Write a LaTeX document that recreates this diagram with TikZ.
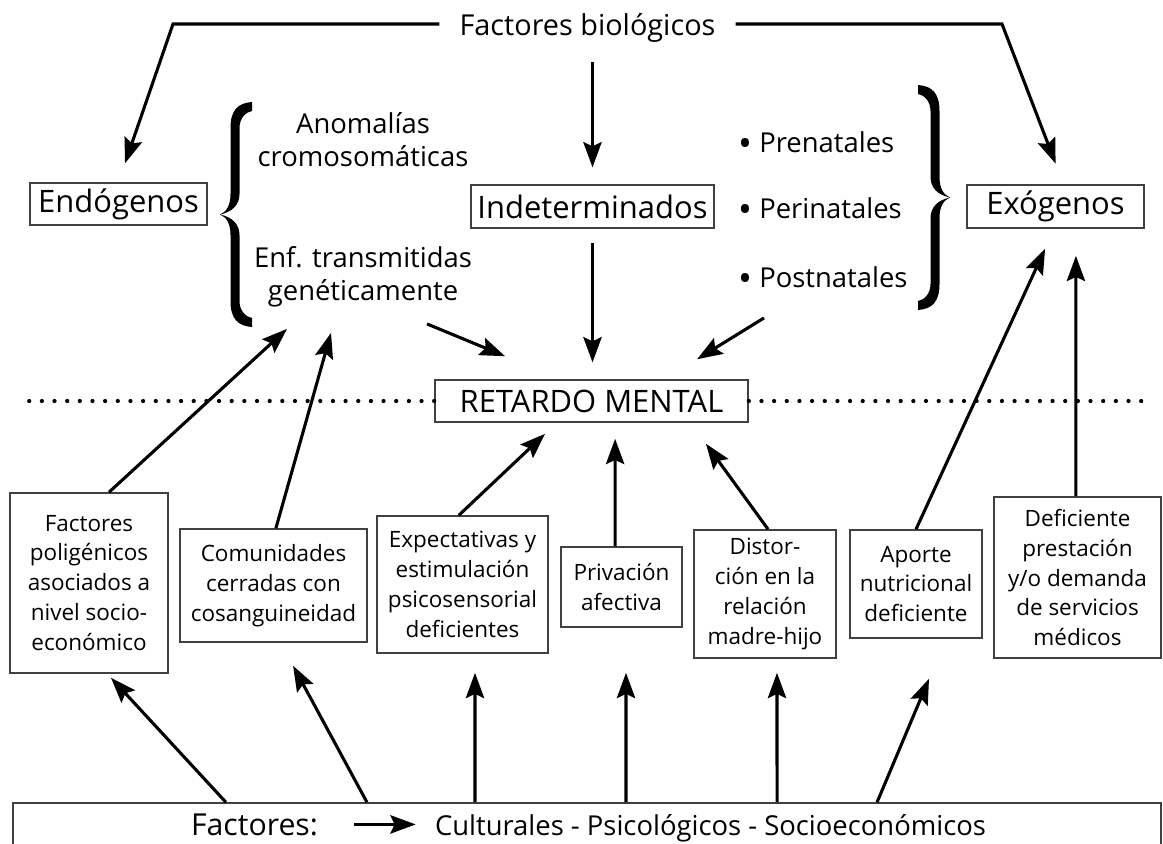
\documentclass[tikz,border=0pt]{standalone}
\usepackage{fontspec}
\usepackage{graphicx}
\setmainfont{Open Sans}
\usetikzlibrary{arrows.meta}
\newcommand\bigtxt{\fontsize{22}{26}\selectfont}
\newcommand\toptxt{\fontsize{20.5}{24}\selectfont}
\newcommand\midtxt{\fontsize{19.5}{23.4}\selectfont}
\newcommand\boxtxt{\fontsize{16}{21.3}\selectfont}
\newcommand\bulletmark{\raisebox{-0.17em}{\scalebox{1.35}{•}}}

\tikzset{
  box/.style={draw=black!75, line width=1.1pt, align=center, inner sep=0pt, font=\boxtxt},
  bigbox/.style={draw=black!75, line width=1.1pt, inner sep=0pt, font=\bigtxt},
  label/.style={inner sep=0pt, font=\midtxt},
  arr/.style={line width=2.2pt, -{Stealth[length=18pt,width=13pt,inset=3pt]}},
  dotline/.style={line width=3pt, line cap=round, dash pattern=on 0pt off 9pt},
  pics/curly/.style={code={
    \fill[xscale=#1] (0,0) .. controls (-14,1) and (-21.5,8) .. (-21.5,26) -- (-21.5,92)
      .. controls (-21.5,104) and (-26,110) .. (-32,112.5)
      .. controls (-26,115) and (-21.5,121) .. (-21.5,133) -- (-21.5,199)
      .. controls (-21.5,217) and (-14,224) .. (0,225) -- (0,216)
      .. controls (-6,215) and (-12.5,209) .. (-12.5,199) -- (-12.5,133)
      .. controls (-12.5,122) and (-20,115) .. (-32,112.5)
      .. controls (-20,110) and (-12.5,103) .. (-12.5,92) -- (-12.5,26)
      .. controls (-12.5,16) and (-6,10) .. (0,9) -- cycle;
  }}
}

\begin{document}
\begin{tikzpicture}[x=0.025cm, y=-0.025cm]
\useasboundingbox (0,0) rectangle (1163,843);
\clip (0,0) rectangle (1163,843);

% Top label
\node[anchor=base, inner ysep=0pt, inner xsep=0.5cm, font=\toptxt] (bio) at (587.5,35) {Factores biológicos};
\coordinate (bioL) at (173,24);
\coordinate (bioR) at (1002,24);

% Groups of biological factors
\node[bigbox, minimum width=4.425cm, minimum height=1.05cm] (endo) at (118.5,204) {Endógenos};
\node[bigbox, minimum width=6.075cm, minimum height=1.075cm] (indet) at (592.5,206.5) {Indeterminados};
\node[bigbox, minimum width=4.425cm, minimum height=1.075cm] (exo) at (1055.5,206.5) {Exógenos};

% Braces and their items
\pic at (252,102) {curly=1};
\pic at (918,85) {curly=-1};
\node[label, align=center] (anom) at (363,139.5) {Anomalías\\cromosomáticas};
\node[label, align=center] (enf) at (363,277) {Enf. transmitidas\\genéticamente};
\node[label, anchor=base west] (pre) at (738,152) {\bulletmark\ Prenatales};
\node[label, anchor=base west] (peri) at (738,218) {\bulletmark\ Perinatales};
\node[label, anchor=base west] (post) at (738,287) {\bulletmark\ Postnatales};

% Center
\node[bigbox, minimum width=7.825cm, minimum height=1.05cm] (retardo) at (591.5,401) {RETARDO MENTAL};
\coordinate (dotL) at (29,401);
\coordinate (dotR) at (1147,401);
\draw[dotline] (retardo.west) -- (dotL);
\draw[dotline] (retardo.east) -- (dotR);

% Lower boxes
\node[box, minimum width=3.95cm, minimum height=4.5cm] (fpol) at (89,583) {Factores\\poligénicos\\asociados a\\nivel socio-\\económico};
\node[box, minimum width=4.675cm, minimum height=2.825cm] (comu) at (273.5,585.5) {Comunidades\\cerradas con\\cosanguineidad};
\node[box, minimum width=4.275cm, minimum height=3.425cm] (expe) at (462.5,584.5) {Expectativas y\\estimulación\\psicosensorial\\deficientes};
\node[box, minimum width=3.025cm, minimum height=2cm] (priv) at (621.5,587) {Privación\\afectiva};
\node[box, minimum width=3.55cm, minimum height=3.2cm] (dist) at (765,594) {Distor-\\ción en la\\relación\\madre-hijo};
\node[box, minimum width=3.3cm, minimum height=2.7cm] (apor) at (916,584) {Aporte\\nutricional\\deficiente};
\node[box, minimum width=4.175cm, minimum height=4.025cm] (defi) at (1077.5,577.5) {Deficiente\\prestación\\y/o demanda\\de servicios\\médicos};

% Bottom bar
\node[draw=black!75, line width=1.1pt, minimum width=28.7cm, minimum height=1.65cm] (bar) at (587,836) {};
\node[anchor=base, inner ysep=0pt, inner xsep=0.9cm, font=\fontsize{21.5}{25}\selectfont] (fact) at (254.5,835) {Factores:};
\node[anchor=base, inner ysep=0pt, inner xsep=0.475cm, font=\midtxt] (cult) at (710.5,835) {Culturales - Psicológicos - Socioeconómicos};
\draw[arr] (fact.east) -- (fact.east -| cult.west);

% Arrows from the top label
\draw[arr, shorten >=0.5cm] (bio.west |- bioL) -- (bioL) -- (endo.north);
\draw[arr, shorten >=0.55cm] (bio.east |- bioR) -- (bioR) -- ([xshift=0.2cm]exo.north);
\draw[arr, shorten <=0.5cm, shorten >=0.42cm] (bio.south -| indet.north) -- (indet.north);

% Arrows into RETARDO MENTAL
\draw[arr, shorten <=0.35cm, shorten >=0.42cm] (indet.south) -- (indet.south |- retardo.north);
\draw[arr] ([xshift=1.6cm, yshift=-0.41cm]enf.south) -- ([xshift=-2.16cm, yshift=0.575cm]retardo.north);
\draw[arr] ([xshift=0.65cm, yshift=-0.65cm]post.south west) -- ([xshift=2.64cm, yshift=0.5cm]retardo.north);
\draw[arr] ([xshift=-0.09cm]expe.north) -- ([xshift=-1.16cm, yshift=-0.275cm]retardo.south);
\draw[arr] ([xshift=-0.16cm]priv.north) -- ([xshift=0.59cm, yshift=-0.4cm]retardo.south);
\draw[arr] ([xshift=0.075cm]dist.north) -- ([xshift=2.86cm, yshift=-0.525cm]retardo.south);

% Arrows up to the groups
\draw[arr] ([xshift=0.5cm]fpol.north) -- ([xshift=-1.9cm, yshift=-0.535cm]enf.south);
\draw[arr] ([xshift=0.06cm]comu.north) -- ([xshift=-0.8cm, yshift=-0.635cm]enf.south);
\draw[arr] (apor.north) -- ([xshift=-0.26cm, yshift=-0.5cm]exo.south);
\draw[arr] ([xshift=-0.04cm]defi.north) -- ([xshift=0.51cm, yshift=-0.675cm]exo.south);

% Arrows from the bottom bar
\draw[arr] ([xshift=-9.025cm]bar.north) -- ([xshift=0.55cm, yshift=-0.1cm]fpol.south);
\draw[arr] ([xshift=-5.5cm]bar.north) -- ([xshift=0.49cm, yshift=-0.575cm]comu.south);
\draw[arr] ([xshift=-2.8cm]bar.north) -- ([xshift=0.3125cm, yshift=-0.475cm]expe.south);
\draw[arr] ([xshift=0.975cm]bar.north) -- ([xshift=0.1125cm, yshift=-1.125cm]priv.south);
\draw[arr] ([xshift=4.75cm]bar.north) -- ([xshift=0.3cm, yshift=-0.35cm]dist.south);
\draw[arr] ([xshift=7.25cm]bar.north) -- ([xshift=0.325cm, yshift=-1cm]apor.south);
\end{tikzpicture}
\end{document}
